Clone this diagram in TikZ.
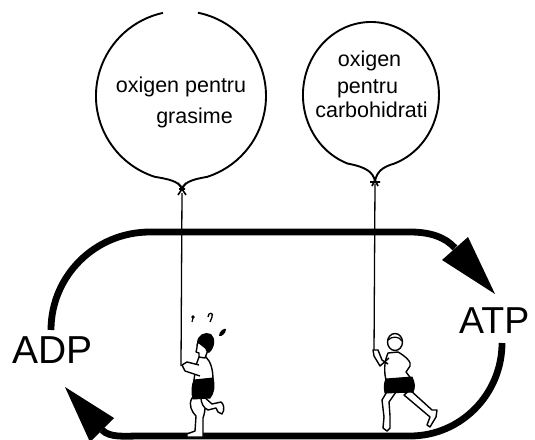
\documentclass[tikz,border=0pt]{standalone}
\usepackage{fontspec}
\setmainfont{Liberation Sans}
\begin{document}
\begin{tikzpicture}[x=1pt,y=-1pt,
  track/.style={line width=6.8pt},
  balloon/.style={line width=1.9pt},
  cord/.style={line width=1.3pt},
  knot/.style={line width=1.6pt},
  body/.style={fill=white,draw=black,line width=1.4pt,line join=round},
  shorts/.style={fill=black,draw=black,line width=1pt,line join=round},
  label/.style={inner sep=0pt,anchor=base,font=\fontsize{21.5}{25}\selectfont},
  big/.style={inner sep=0pt,anchor=base west,font=\fontsize{39}{44}\selectfont}]
\useasboundingbox (0,0) rectangle (535,439);

% running track with its two arrows
\draw[track] (51,330) .. controls (51,276) and (95,232) .. (150,232) -- (410,232)
  .. controls (430,232) and (445,237) .. (455,248);
\fill (442,260) -- (468,237) -- (495,294) -- cycle;
\draw[track] (502,343) .. controls (502,394) and (461,436) .. (410,436) -- (140,436)
  .. controls (125,436) and (110,438) .. (102,430);
\fill (114,418) -- (90,442) -- (65,387) -- cycle;

\node[big] (adp) at (12,363) {ADP};
\node[big,font=\fontsize{37.5}{44}\selectfont] (atp) at (459,333) {ATP};

% balloon for fat
\coordinate (c1) at (181,96);
\draw[balloon] (c1) ++(281.5:85) arc[start angle=281.5,end angle=432,radius=85]
  .. controls (195,179) and (186,181) .. (182,188)
  .. controls (178,181) and (168,179) .. (154.7,176.8)
  arc[start angle=108,end angle=257.8,radius=85];
\draw[knot] (178,183) -- (186,195) (186,183) -- (178,195) (179,189) -- (185,189);
\node[label] (b1a) at (181,92) {oxigen pentru};
\node[label] (b1b) at (194.5,123) {grasime};

% balloon for carbohydrates
\draw[balloon] (394.3,163.6) .. controls (382,167) and (377,172) .. (375,181)
  .. controls (373,172) and (366,167) .. (347.7,163.6)
  arc[start angle=110,end angle=430,x radius=68,y radius=73];
\draw[knot] (370,182) -- (380,182) (372,186) -- (375,180) -- (378,186);
\node[label] (b2a) at (369.5,66) {oxigen};
\node[label] (b2b) at (367.5,93) {pentru};
\node[label] (b2c) at (371.5,117) {carbohidrati};

% strings
\draw[cord] (182,193) -- (181,366);
\draw[cord] (375,184) -- (374,354);

% tired runner
\draw[body] (192,398) .. controls (188,405) and (192,412) .. (196,416) -- (195,431)
  -- (187,434) -- (187,437) -- (203,437) -- (203,418)
  .. controls (206,410) and (205,402) .. (205,398) -- cycle;
\draw[body] (203,396) -- (212,404) -- (221,402) .. controls (224,404) and (225,410) .. (222,414)
  -- (218,412) -- (216,408) -- (208,410) .. controls (203,408) and (201,402) .. (201,398) -- cycle;
\draw[body] (199,357) -- (206,357) .. controls (211,362) and (213,370) .. (213,380)
  -- (194,381) .. controls (194,376) and (196,372) .. (195,368) -- cycle;
\draw[shorts] (194,380) -- (213,378) .. controls (215,386) and (214,393) .. (210,398)
  -- (193,399) .. controls (191,392) and (192,385) .. (194,380) -- cycle;
\draw[body] (199,365) -- (187,362) -- (182,365) -- (185,371) -- (200,376);
\draw[body] (198,342) .. controls (196,346) and (198,349) .. (196,352) -- (199,353)
  -- (199,357) -- (205,358) -- (208,350) -- cycle;
\fill (197,343) .. controls (197,335) and (205,331) .. (211,334)
  .. controls (216,338) and (215,348) .. (209,353) -- (206,351)
  .. controls (206,347) and (203,344) .. (197,343) -- cycle;
% sweat drops
\fill (193,317) circle (1.8pt);
\draw[line width=1.2pt] (193,318) -- (192,322);
\draw[line width=1.3pt] (208,317) .. controls (208,312) and (214,312) .. (212,317) -- (210,322);
\fill (219,336) .. controls (219,331) and (224,328) .. (226,329)
  .. controls (226,333) and (222,337) .. (219,336) -- cycle;

% fresh runner
\draw[body] (410,390) -- (432,410) -- (437,410) -- (436,417) -- (430,427) -- (427,425)
  -- (430,417) -- (404,395) -- cycle;
\draw[body] (388,390) -- (382,400) -- (384,417) -- (383,428) -- (387,431) -- (390,428)
  -- (390,416) -- (389,402) -- (396,392) -- cycle;
\draw[body] (388,353) -- (398,352) .. controls (405,356) and (412,362) .. (410,366)
  -- (406,372) -- (412,380) -- (386,380) .. controls (384,372) and (384,362) .. (388,353) -- cycle;
\draw[shorts] (386,379) -- (412,377) .. controls (415,383) and (415,388) .. (413,392)
  -- (385,393) .. controls (384,388) and (384,383) .. (386,379) -- cycle;
\draw[body] (389,358) -- (380,366) -- (374,356) -- (373,350) -- (378,350) -- (382,360) -- (388,364);
\draw[body] (395,342) ellipse[x radius=7.5,y radius=8.5];
\draw[line width=1.2pt] (388,340) .. controls (392,336) and (399,336) .. (402,341);
\end{tikzpicture}
\end{document}
